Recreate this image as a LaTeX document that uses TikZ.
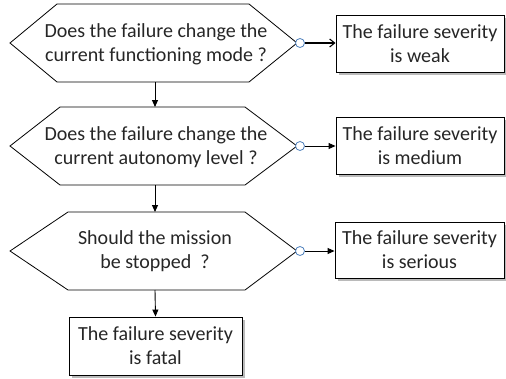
\documentclass[tikz,border=0pt]{standalone}
\usepackage{fontspec}
\setmainfont{Carlito}
\usetikzlibrary{arrows.meta,shadows}
\definecolor{portblue}{HTML}{4F81BD}
\begin{document}
\begin{tikzpicture}[x=1pt,y=1pt,
  hexline/.style={draw=black, line width=0.8pt},
  qtext/.style={align=center, font=\fontsize{20}{24}\selectfont, inner sep=0pt, text=black!85},
  sevbox/.style={draw=black, line width=0.9pt, fill=white, align=center,
    font=\fontsize{20}{24}\selectfont, inner sep=0pt, text=black!85,
    drop shadow={shadow xshift=2.5pt, shadow yshift=-2.5pt, fill=black!45, opacity=0.6}},
  port/.style={circle, draw=portblue, fill=white, line width=0.8pt, inner sep=0pt, minimum size=9pt},
  flow/.style={-{Triangle[length=7pt,width=6pt]}, line width=0.9pt},
  flowbarb/.style={-{Straight Barb[length=5pt,width=8pt]}, line width=1.1pt}]
\useasboundingbox (0,0) rectangle (506,-378);

% hexagons
\draw[hexline] (10,-43) -- (57,-4) -- (249,-4) -- (297,-43) -- (249,-82) -- (57,-82) -- cycle;
\draw[hexline] (10,-146) -- (60,-107) -- (245,-107) -- (297,-146) -- (245,-185) -- (60,-185) -- cycle;
\draw[hexline] (10,-251) -- (68,-212) -- (245,-212) -- (297,-251) -- (245,-290) -- (68,-290) -- cycle;

\node[qtext] (q1) at (156,-44) {Does the failure change the\\current functioning mode ?};
\node[qtext] (q2) at (156,-147) {Does the failure change the\\current autonomy level ?};
\node[qtext] (q3) at (155,-251) {Should the mission\\be stopped\ \ ?};

\coordinate (q1s) at (155,-82);
\coordinate (q2n) at (155,-107);
\coordinate (q2s) at (155,-185);
\coordinate (q3n) at (155,-212);
\coordinate (q3s) at (155,-290);

% severity boxes
\node[sevbox, minimum width=168pt, minimum height=57pt] (b1) at (420,-43.5) {The failure severity\\is weak};
\node[sevbox, minimum width=168pt, minimum height=57pt] (b2) at (420,-145.5) {The failure severity\\is medium};
\node[sevbox, minimum width=169pt, minimum height=56pt] (b3) at (419.5,-250) {The failure severity\\is serious};
\node[sevbox, minimum width=173pt, minimum height=58pt] (b4) at (155.5,-346) {The failure severity\\is fatal};

% ports
\node[port] (c1) at (300,-43) {};
\node[port] (c2) at (300,-146) {};
\node[port] (c3) at (300,-251) {};

% connectors
\draw[flowbarb] (c1) -- (b1.west |- c1);
\draw[flow] (c2) -- (b2.west |- c2);
\draw[flow] (c3) -- (b3.west |- c3);
\draw[flow] (q1s) -- (q2n);
\draw[flow] (q2s) -- (q3n);
\draw[flow] (q3s) -- (b4.north);
\end{tikzpicture}
\end{document}
